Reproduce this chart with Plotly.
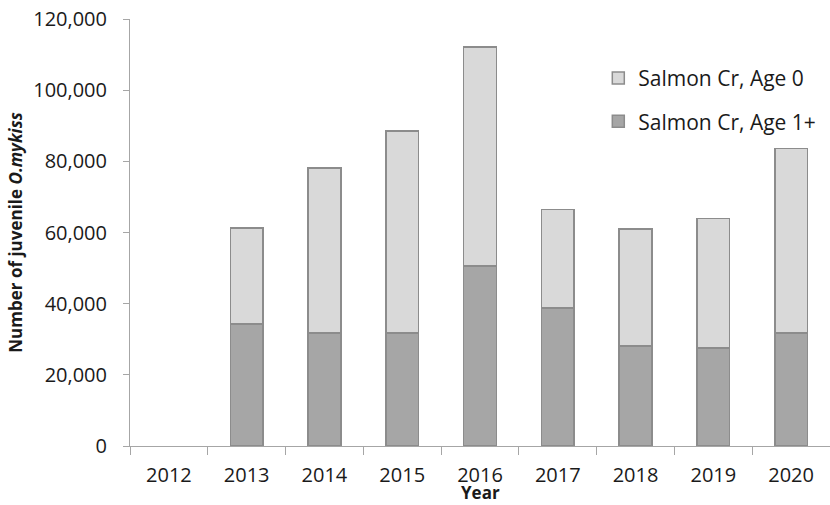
import plotly.graph_objects as go

years = ["2012", "2013", "2014", "2015", "2016", "2017", "2018", "2019", "2020"]
age1_plus = [None, 34300, 31800, 31800, 50600, 38800, 28100, 27500, 31700]
age0 = [None, 27000, 46300, 56700, 61500, 27700, 32900, 36400, 51900]
y_ticks = [0, 20000, 40000, 60000, 80000, 100000, 120000]

FONT = "Open Sans"
AXIS_GREY = "#a6a6a6"
TEXT = "#1a1a1a"

fig = go.Figure()

fig.add_trace(
    go.Bar(
        x=years,
        y=age1_plus,
        name="Salmon Cr, Age 1+",
        legendgroup="a1",
        legendrank=2,
        marker=dict(color="#a6a6a6", line=dict(color="#8c8c8c", width=1.5)),
    )
)
fig.add_trace(
    go.Bar(
        x=years,
        y=age0,
        name="Salmon Cr, Age 0",
        legendgroup="a0",
        legendrank=1,
        marker=dict(color="#d9d9d9", line=dict(color="#8c8c8c", width=1.5)),
    )
)

fig.update_layout(
    barmode="stack",
    bargap=0.58,
    width=830,
    height=505,
    plot_bgcolor="white",
    paper_bgcolor="white",
    margin=dict(l=130, r=0, t=19, b=59),
    font=dict(family=FONT, size=20, color=TEXT),
    showlegend=True,
    legend=dict(
        x=0.669,
        y=0.909,
        xanchor="left",
        yanchor="top",
        traceorder="grouped",
        tracegroupgap=13,
        font=dict(size=21, color=TEXT),
        bgcolor="rgba(0,0,0,0)",
    ),
    annotations=[
        dict(
            text="<b>Year</b>",
            x=0.5,
            y=0,
            xref="paper",
            yref="paper",
            yanchor="middle",
            yshift=-46,
            showarrow=False,
            font=dict(size=17, color=TEXT),
        )
    ],
)

fig.update_xaxes(
    type="category",
    automargin=False,
    showline=True,
    linecolor=AXIS_GREY,
    linewidth=1,
    ticks="outside",
    tickson="boundaries",
    ticklen=8,
    tickcolor=AXIS_GREY,
    ticklabelstandoff=11,
    showgrid=False,
    tickfont=dict(size=20),
)

fig.update_yaxes(
    range=[0, 120000],
    tickvals=y_ticks,
    tickformat=",",
    automargin=False,
    showline=True,
    linecolor=AXIS_GREY,
    linewidth=1,
    ticks="outside",
    ticklen=6,
    tickcolor=AXIS_GREY,
    ticklabelstandoff=12,
    ticklabeloverflow="allow",
    showgrid=False,
    zeroline=False,
    tickfont=dict(size=20),
    title=dict(text="<b>Number of juvenile <i>O.mykiss</i></b>", font=dict(size=17), standoff=6),
)

# drop the browser's default 8px body margin so the figure sits at the window corner
fig.write_html(
    "out.html",
    config={"displayModeBar": False},
    post_script="document.body.style.margin = '0';",
)
